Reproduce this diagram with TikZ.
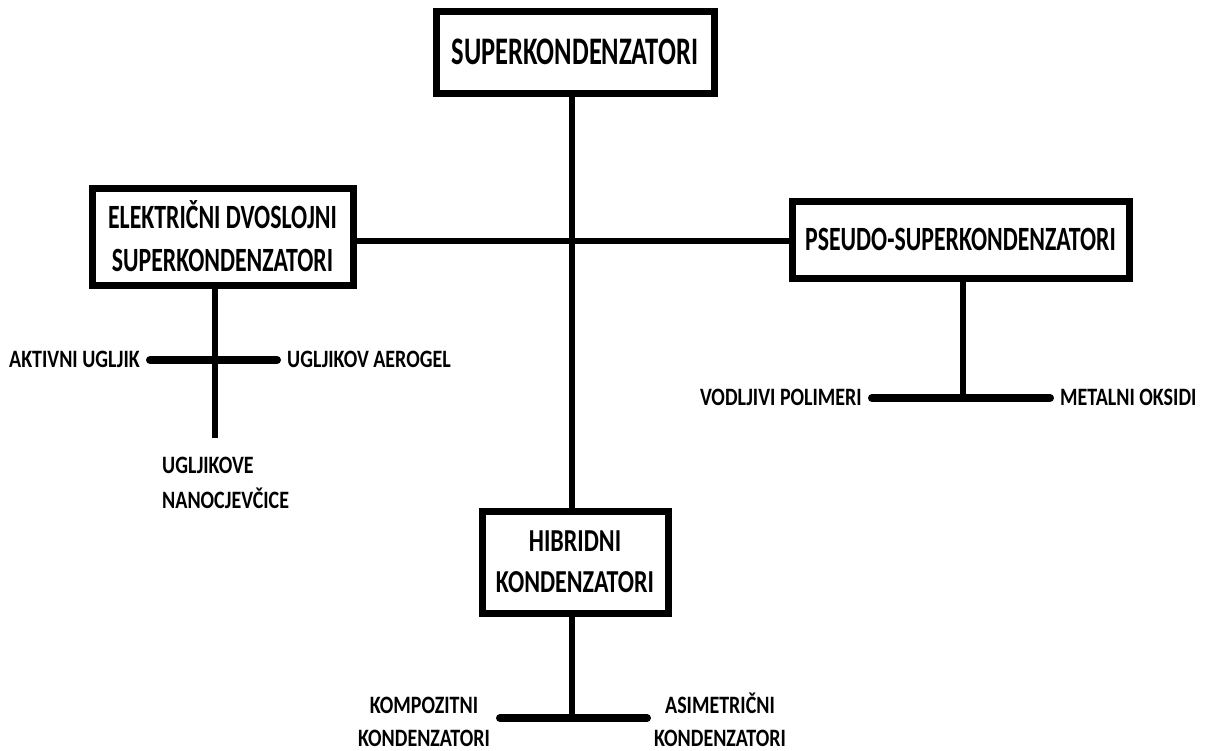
\documentclass[tikz,border=0pt]{standalone}
\usepackage{fontspec}
\setmainfont{Carlito}
\newfontfamily\topfont{Carlito}[FakeStretch=0.68]
\newfontfamily\midfont{Carlito}[FakeStretch=0.70]
\newfontfamily\hybfont{Carlito}[FakeStretch=0.75]
\newfontfamily\leaffont{Carlito}[FakeStretch=0.80]
\begin{document}
\begin{tikzpicture}[x=1pt,y=-1pt,
  box/.style={draw,line width=7pt,fill=white,inner sep=0pt,align=center},
  leaf/.style={font=\fontsize{25}{34}\leaffont\bfseries,inner xsep=10pt,inner ysep=0pt},
  conn/.style={line width=6.5pt},
  bar/.style={line width=8pt,line cap=round}]
\useasboundingbox (0,0) rectangle (1206,750);
\fill[white] (0,0) rectangle (1206,750);
% coordinates of junctions and free ends
\coordinate (hub) at (572,241);
\coordinate (j1) at (215,360);
\coordinate (j1e) at (215,438);
\coordinate (j2) at (963,398);
\coordinate (j3) at (572,718);
\coordinate (h1) at (500,718);
\coordinate (h2) at (647,718);
% leaves
\node[leaf,anchor=base east] (akt) at (150,367) {AKTIVNI UGLJIK};
\node[leaf,anchor=base west] (aer) at (277,367) {UGLJIKOV AEROGEL};
\node[leaf,anchor=base west,align=left,font=\fontsize{25}{35}\leaffont\bfseries] (cnt) at (152,508) {UGLJIKOVE\\NANOCJEVČICE};
\node[leaf,anchor=base east] (vod) at (872,405) {VODLJIVI POLIMERI};
\node[leaf,anchor=base west] (met) at (1050,405) {METALNI OKSIDI};
\node[leaf,anchor=base,align=center,font=\fontsize{25}{33}\leaffont\bfseries] (kom) at (424,746) {KOMPOZITNI\\KONDENZATORI};
\node[leaf,anchor=base,align=center,font=\fontsize{25}{33}\leaffont\bfseries] (asi) at (720,746) {ASIMETRIČNI\\KONDENZATORI};
% boxes
\path (575,52) node[box,minimum width=278pt,minimum height=82pt,
  font=\fontsize{39}{45}\topfont\bfseries] (top) {SUPERKONDENZATORI};
\path (222.5,236.5) node[box,minimum width=261pt,minimum height=97pt,
  font=\fontsize{34}{43}\midfont\bfseries] (edl) {ELEKTRIČNI DVOSLOJNI\\SUPERKONDENZATORI};
\path (960.5,239.5) node[box,minimum width=337pt,minimum height=77pt,
  font=\fontsize{34}{43}\midfont\bfseries] (pse) {PSEUDO-SUPERKONDENZATORI};
\path (575,562) node[box,minimum width=186pt,minimum height=102pt,
  font=\fontsize{32}{41}\hybfont\bfseries] (hyb) {HIBRIDNI\\KONDENZATORI};
% connectors
\draw[conn] ([xshift=-3pt]top.south) -- ([xshift=-3pt]hyb.north);
\draw[conn] (edl.east |- hub) -- (pse.west |- hub);
\draw[conn] (edl.south -| j1) -- (j1e);
\draw[bar] (akt.east |- j1) -- (aer.west |- j1);
\draw[conn] (pse.south -| j2) -- (j2);
\draw[bar] (vod.east |- j2) -- (met.west |- j2);
\draw[conn] (hyb.south -| j3) -- (j3);
\draw[bar] (h1) -- (h2);
\end{tikzpicture}
\end{document}
